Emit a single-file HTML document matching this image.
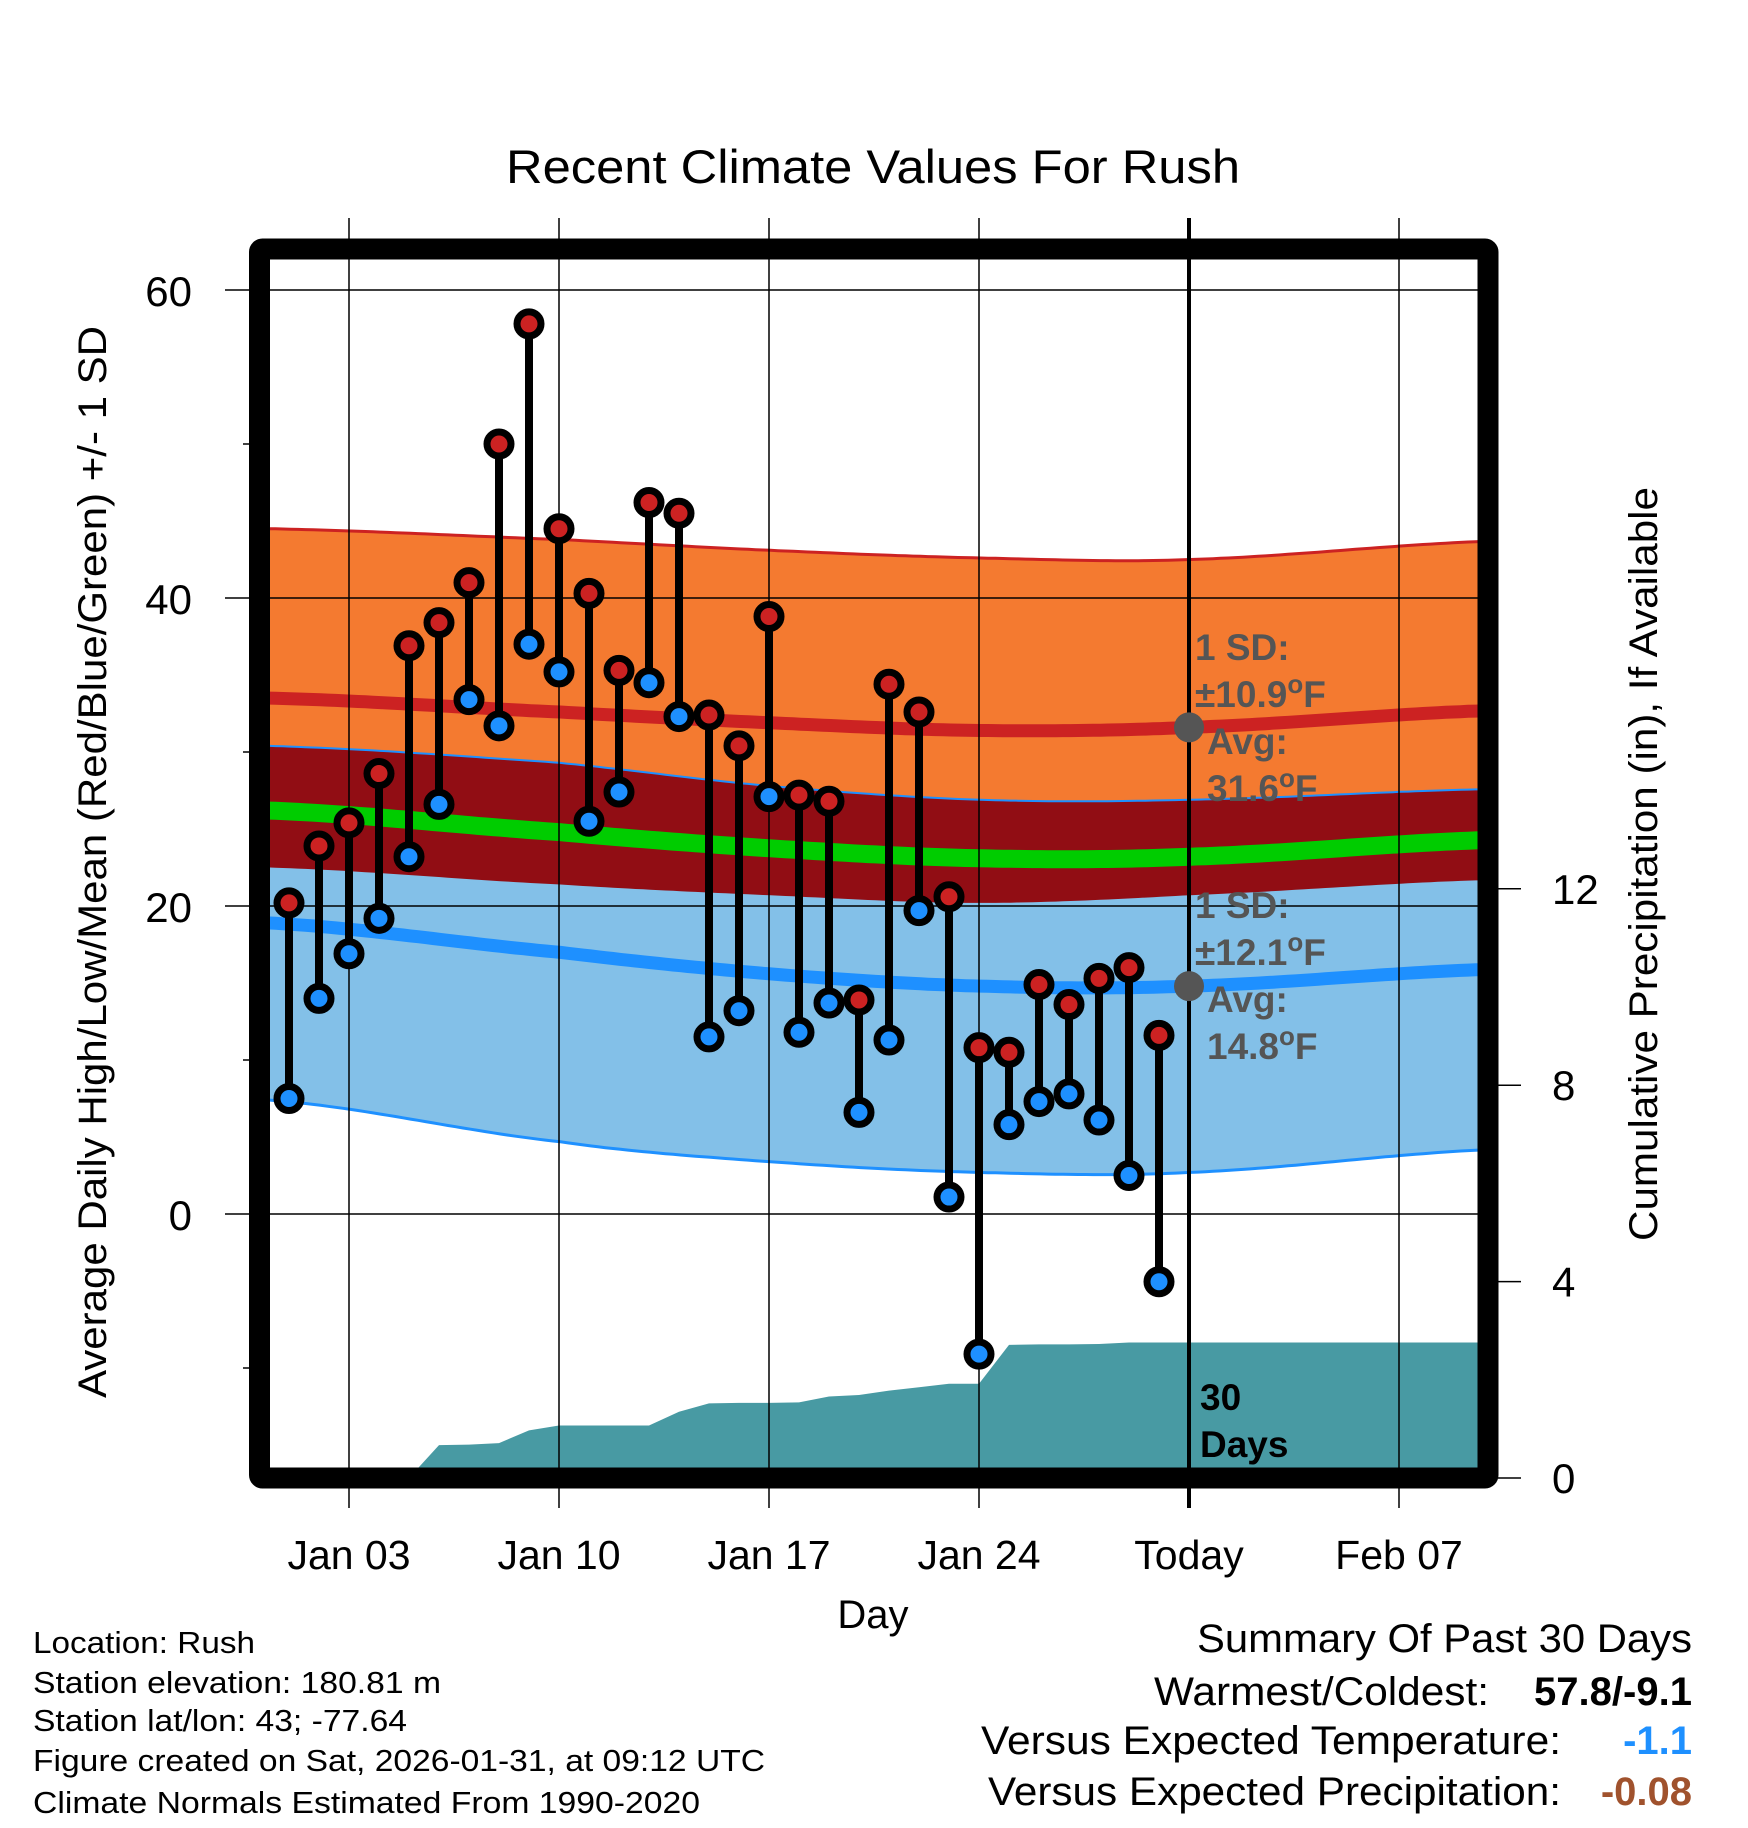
<!DOCTYPE html>
<html><head><meta charset="utf-8"><style>
html,body{margin:0;padding:0;background:#fff}
svg{display:block;font-family:"Liberation Sans",Arial,sans-serif}
</style></head><body>
<svg id="chart" width="1748" height="1828" viewBox="0 0 1748 1828" xmlns="http://www.w3.org/2000/svg">
<text x="873" y="183" font-size="47" text-anchor="middle" textLength="734" lengthAdjust="spacingAndGlyphs">Recent Climate Values For Rush</text>
<g id="plot"></g>
<text transform="translate(106,862) rotate(-90)" font-size="40" text-anchor="middle" textLength="1072" lengthAdjust="spacingAndGlyphs">Average Daily High/Low/Mean (Red/Blue/Green) +/- 1 SD</text>
<text transform="translate(1657,864) rotate(-90)" font-size="40" text-anchor="middle" textLength="754" lengthAdjust="spacingAndGlyphs">Cumulative Precipitation (in), If Available</text>
<text x="873" y="1628" font-size="40" text-anchor="middle">Day</text>
<g font-size="31">
<text x="33" y="1653" textLength="222" lengthAdjust="spacingAndGlyphs">Location: Rush</text>
<text x="33" y="1693" textLength="408" lengthAdjust="spacingAndGlyphs">Station elevation: 180.81 m</text>
<text x="33" y="1731" textLength="374" lengthAdjust="spacingAndGlyphs">Station lat/lon: 43; -77.64</text>
<text x="33" y="1771" textLength="732" lengthAdjust="spacingAndGlyphs">Figure created on Sat, 2026-01-31, at 09:12 UTC</text>
<text x="33" y="1813" textLength="667" lengthAdjust="spacingAndGlyphs">Climate Normals Estimated From 1990-2020</text>
</g>
<g font-size="40">
<text x="1692" y="1652" text-anchor="end" textLength="495" lengthAdjust="spacingAndGlyphs">Summary Of Past 30 Days</text>
<text x="1489" y="1705" text-anchor="end" textLength="335" lengthAdjust="spacingAndGlyphs">Warmest/Coldest:</text>
<text x="1692" y="1705" text-anchor="end" font-weight="bold" textLength="158" lengthAdjust="spacingAndGlyphs">57.8/-9.1</text>
<text x="1561" y="1754" text-anchor="end" textLength="580" lengthAdjust="spacingAndGlyphs">Versus Expected Temperature:</text>
<text x="1692" y="1754" text-anchor="end" font-weight="bold" fill="#1e90ff">-1.1</text>
<text x="1561" y="1805" text-anchor="end" textLength="573" lengthAdjust="spacingAndGlyphs">Versus Expected Precipitation:</text>
<text x="1692" y="1805" text-anchor="end" font-weight="bold" fill="#a0522d">-0.08</text>
</g>
</svg>
<script>
// ---- data ----
const dayNums = [1,2,3,4,5,6,7,8,9,10,11,12,13,14,15,16,17,18,19,20,21,22,23,24,25,26,27,28,29,30];
const highs = [20.2,23.9,25.4,28.6,36.9,38.4,41.0,50.0,57.8,44.5,40.3,35.3,46.2,45.5,32.4,30.4,38.8,27.2,26.8,13.9,34.4,32.6,20.6,10.8,10.5,14.9,13.6,15.3,16.0,11.6];
const lows = [7.5,14.0,16.9,19.2,23.2,26.6,33.4,31.7,37.0,35.2,25.5,27.4,34.5,32.3,11.5,13.2,27.1,11.8,13.7,6.6,11.3,19.7,1.1,-9.1,5.8,7.3,7.8,6.1,2.5,-4.4];
const precipCum = [0,0,0,0,0,0.67,0.68,0.71,0.97,1.07,1.07,1.07,1.07,1.35,1.52,1.53,1.53,1.54,1.66,1.69,1.78,1.85,1.92,1.92,2.71,2.72,2.72,2.73,2.76,2.76];
const normDays = [0.3,10,17,24,31,41.2];
const hiAvg = [33.5,32.6,31.9,31.4,31.6,32.7];
const hiSD = [11.0,11.2,11.2,11.2,10.9,11.0];
const loAvg = [18.9,17.0,15.6,14.8,14.8,15.9];
const loSD = [11.5,12.3,12.2,12.1,12.1,11.7];
const yTicks = [0,20,40,60];
const yMinor = [-10,10,30,50];
const pTicks = [0,4,8,12];
const xTickDays = [3,10,17,24,31,38];
const xTickLabels = ["Jan 03","Jan 10","Jan 17","Jan 24","Today","Feb 07"];
const todayDay = 31;

// ---- scales ----
const L=270,R=1478,T=260,B=1468;
const x = d => 289 + (d-1)*30;
const y = v => 1214 - v*15.4;
const yp = p => 1478 - p*49.1;
const NS="http://www.w3.org/2000/svg";
const plot=document.getElementById('plot');
function mk(tag,attrs,parent){const e=document.createElementNS(NS,tag);for(const k in attrs)e.setAttribute(k,attrs[k]);(parent||plot).appendChild(e);return e;}

function sample(arr,d){
  let i=0; while(i<normDays.length-2 && d>normDays[i+1]) i++;
  const t=(d-normDays[i])/(normDays[i+1]-normDays[i]);
  const p0=arr[Math.max(i-1,0)],p1=arr[i],p2=arr[i+1],p3=arr[Math.min(i+2,arr.length-1)];
  const t2=t*t,t3=t2*t;
  return 0.5*((2*p1)+(-p0+p2)*t+(2*p0-5*p1+4*p2-p3)*t2+(-p0+3*p1-3*p2+p3)*t3);
}
const sd=[];const dEnd=normDays[normDays.length-1];
for(let d=normDays[0];d<dEnd;d+=0.25)sd.push(d);sd.push(dEnd);
const curve=f=>sd.map(d=>[x(d),y(f(d))]);
const pts=a=>a.map(p=>p[0].toFixed(1)+','+p[1].toFixed(1)).join(' ');
const hiU=curve(d=>sample(hiAvg,d)+sample(hiSD,d)), hiL=curve(d=>sample(hiAvg,d)-sample(hiSD,d));
const loU=curve(d=>sample(loAvg,d)+sample(loSD,d)), loL=curve(d=>sample(loAvg,d)-sample(loSD,d));
const hiM=curve(d=>sample(hiAvg,d)), loM=curve(d=>sample(loAvg,d));
const mean=curve(d=>(sample(hiAvg,d)+sample(loAvg,d))/2);

const clip=mk('clipPath',{id:'pc'});mk('rect',{x:L,y:T,width:R-L,height:B-T},clip);
const g=mk('g',{'clip-path':'url(#pc)'});

let e;
e=mk('polygon',{points:pts(hiU)+' '+pts(hiL.slice().reverse()),fill:'#f47a30'},g);


e=mk('polygon',{points:pts(loU)+' '+pts(loL.slice().reverse()),fill:'#83c0e8'},g);


e=mk('polygon',{points:pts(loU)+' '+pts(hiL.slice().reverse()),fill:'#910d14'},g);


e=mk('polyline',{points:pts(hiU),fill:'none',stroke:'#cc2222','stroke-width':3},g);


e=mk('polyline',{points:pts(loU),fill:'none',stroke:'#1e90ff','stroke-width':2},g);


e=mk('polyline',{points:pts(loL),fill:'none',stroke:'#1e90ff','stroke-width':3},g);


e=mk('polyline',{points:pts(hiM),fill:'none',stroke:'#cc2222','stroke-width':13},g);


e=mk('polyline',{points:pts(loM),fill:'none',stroke:'#1e90ff','stroke-width':13},g);


e=mk('polyline',{points:pts(mean),fill:'none',stroke:'#00cc00','stroke-width':18},g);



let pp=[[x(5.15),yp(0)]];
for(let i=4;i<precipCum.length;i++)pp.push([x(dayNums[i]),yp(precipCum[i])]);
pp.push([R+5,yp(precipCum[precipCum.length-1])],[R+5,yp(0)+5],[x(5.15),yp(0)+5]);
e=mk('polygon',{points:pts(pp),fill:'#489aa3'},g);



yTicks.forEach(v=>{
  e=mk('line',{x1:225,x2:1498,y1:y(v),y2:y(v),stroke:'#000','stroke-width':1.5});
  
  
  e=mk('text',{x:192,y:y(v)+16,'font-size':42,'text-anchor':'end'});e.textContent=v;
  
  
});
yMinor.forEach(v=>{
  e=mk('line',{x1:243,x2:260,y1:y(v),y2:y(v),stroke:'#000','stroke-width':1.5});
  
  
});
xTickDays.forEach((d,i)=>{
  if(d!==todayDay){
    e=mk('line',{x1:x(d),x2:x(d),y1:218,y2:1508,stroke:'#000','stroke-width':1.5});
    
    
  }
  e=mk('text',{x:x(d),y:1569,'font-size':41,'text-anchor':'middle'});e.textContent=xTickLabels[i];
  
  
});
pTicks.forEach(p=>{
  e=mk('line',{x1:1498,x2:1521,y1:yp(p),y2:yp(p),stroke:'#000','stroke-width':1.5});
  
  
  e=mk('text',{x:1552,y:yp(p)+15,'font-size':42});e.textContent=p;
  
  
});
e=mk('line',{x1:x(todayDay),x2:x(todayDay),y1:218,y2:1508,stroke:'#000','stroke-width':4});



dayNums.forEach((d,i)=>{
  e=mk('line',{x1:x(d),x2:x(d),y1:y(highs[i]),y2:y(lows[i]),stroke:'#000','stroke-width':8});
  
  
});
dayNums.forEach((d,i)=>{
  e=mk('circle',{cx:x(d),cy:y(highs[i]),r:12,fill:'#cc2222',stroke:'#000','stroke-width':7});
  
  
  e=mk('circle',{cx:x(d),cy:y(lows[i]),r:12,fill:'#1e90ff',stroke:'#000','stroke-width':7});
  
  
});

const ann=(lines,yy)=>{lines.forEach((s,k)=>{
  e=mk('text',{x:k<2?1195:1207,y:yy+k*47,'font-size':37,'font-weight':'bold',fill:'#555'});
  e.innerHTML=s;
  
  
});};
const todayHi=sample(hiAvg,todayDay), todayLo=sample(loAvg,todayDay);
e=mk('circle',{cx:x(todayDay),cy:y(todayHi),r:15,fill:'#555'});


e=mk('circle',{cx:x(todayDay),cy:y(todayLo),r:15,fill:'#555'});


ann(['1 SD:','±10.9<tspan dy="-14" font-size="26">o</tspan><tspan dy="14">F</tspan>','Avg:','31.6<tspan dy="-14" font-size="26">o</tspan><tspan dy="14">F</tspan>'],660);
ann(['1 SD:','±12.1<tspan dy="-14" font-size="26">o</tspan><tspan dy="14">F</tspan>','Avg:','14.8<tspan dy="-14" font-size="26">o</tspan><tspan dy="14">F</tspan>'],918);
e=mk('text',{x:1200,y:1410,'font-size':37,'font-weight':'bold'});e.textContent='30';


e=mk('text',{x:1200,y:1457,'font-size':37,'font-weight':'bold'});e.textContent='Days';



e=mk('rect',{x:259.5,y:249,width:1228.5,height:1229,fill:'none',stroke:'#000','stroke-width':21,rx:3});


</script>
</body></html>
